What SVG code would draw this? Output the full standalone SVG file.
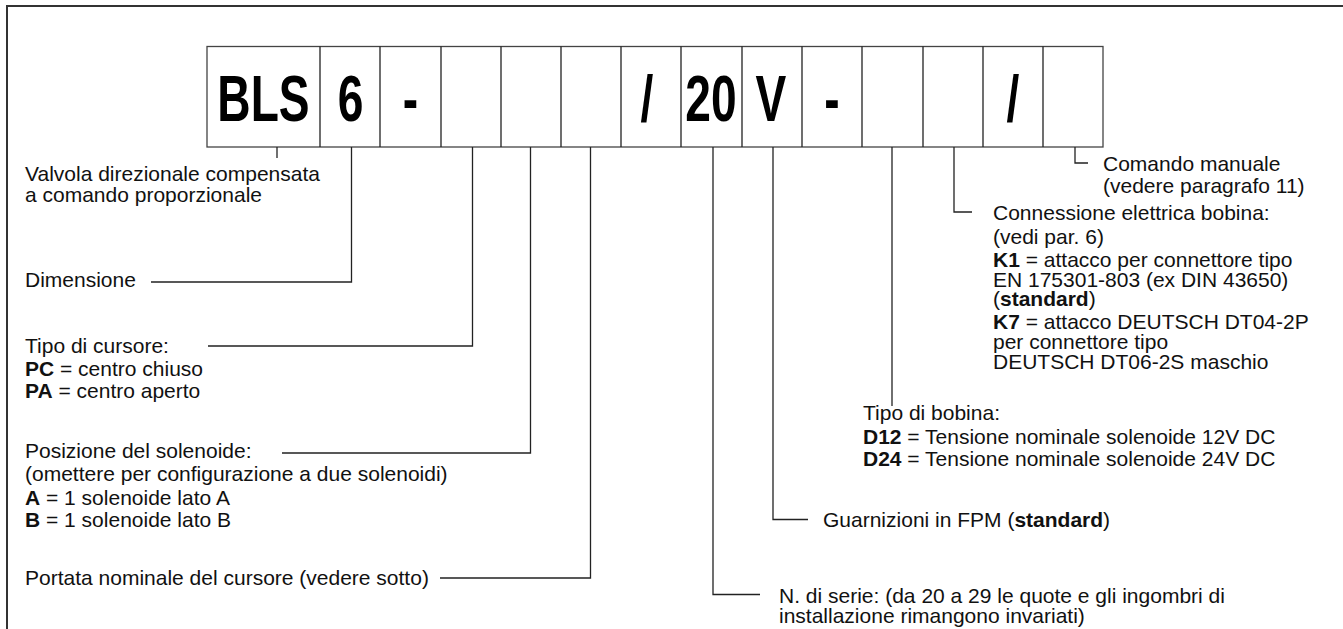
<svg xmlns="http://www.w3.org/2000/svg" width="1343" height="629" viewBox="0 0 1343 629">
<style>
.t{font-family:"Liberation Sans",Arial,sans-serif;font-size:21px;fill:#111}
.b{font-weight:bold}
.big{font-family:"Liberation Sans",Arial,sans-serif;font-size:65px;font-weight:bold;fill:#000;text-anchor:middle}
.box{fill:#fff;stroke:#444;stroke-width:1.3}
.ld{fill:none;stroke:#222;stroke-width:1.3}
.frame{fill:none;stroke:#333;stroke-width:2}
</style>
<rect width="1343" height="629" fill="#fff"/>
<path class="frame" d="M7,629 V6 H1343"/>
<g id="code">
<rect class="box" x="207" y="46.5" width="896" height="100.5"/>
<path class="ld" d="M320,46.5V147M380,46.5V147M441,46.5V147M501,46.5V147M561,46.5V147M621,46.5V147M681,46.5V147M742,46.5V147M802,46.5V147M862,46.5V147M923,46.5V147M983,46.5V147M1043,46.5V147"/>
<g transform="translate(263.5,120.5) scale(0.71,1)"><text class="big" x="0" y="0">BLS</text></g>
<g transform="translate(350.5,120.5) scale(0.71,1)"><text class="big" x="0" y="0">6</text></g>
<g transform="translate(410.5,120.5) scale(0.71,1)"><text class="big" x="0" y="0">-</text></g>
<g transform="translate(647,120.5) scale(0.71,1)"><text class="big" x="0" y="0">/</text></g>
<g transform="translate(711,120.5) scale(0.71,1)"><text class="big" x="0" y="0">20</text></g>
<g transform="translate(771,120.5) scale(0.71,1)"><text class="big" x="0" y="0">V</text></g>
<g transform="translate(832,120.5) scale(0.71,1)"><text class="big" x="0" y="0">-</text></g>
<g transform="translate(1013,120.5) scale(0.71,1)"><text class="big" x="0" y="0">/</text></g>
</g>
<g id="connectors">
<path class="ld" d="M277,147V158"/>
<path class="ld" d="M351.5,147V282H151"/>
<path class="ld" d="M472.5,147V346H208"/>
<path class="ld" d="M530.5,147V453H282"/>
<path class="ld" d="M590.5,147V578H440"/>
<path class="ld" d="M713,147V594.5H760"/>
<path class="ld" d="M773,147V519.5H808"/>
<path class="ld" d="M892,147V406"/>
<path class="ld" d="M954,147V212H972"/>
<path class="ld" d="M1075,147V163H1088"/>
</g>
<g id="n-valvola">
<text class="t" x="25" y="181">Valvola direzionale compensata</text>
<text class="t" x="25" y="202">a comando proporzionale</text>
</g>
<g id="n-dimensione">
<text class="t" x="25" y="287">Dimensione</text>
</g>
<g id="n-cursore">
<text class="t" x="25" y="353">Tipo di cursore:</text>
<text class="t" x="25" y="376"><tspan class="b">PC</tspan> = centro chiuso</text>
<text class="t" x="25" y="398"><tspan class="b">PA</tspan> = centro aperto</text>
</g>
<g id="n-solenoide">
<text class="t" x="25" y="458">Posizione del solenoide:</text>
<text class="t" x="25" y="481">(omettere per configurazione a due solenoidi)</text>
<text class="t" x="25" y="505"><tspan class="b">A</tspan> = 1 solenoide lato A</text>
<text class="t" x="25" y="527"><tspan class="b">B</tspan> = 1 solenoide lato B</text>
</g>
<g id="n-portata">
<text class="t" x="25" y="585">Portata nominale del cursore (vedere sotto)</text>
</g>
<g id="n-comando">
<text class="t" x="1103" y="171">Comando manuale</text>
<text class="t" x="1103" y="193">(vedere paragrafo 11)</text>
</g>
<g id="n-connessione">
<text class="t" x="993" y="220">Connessione elettrica bobina:</text>
<text class="t" x="993" y="244">(vedi par. 6)</text>
<text class="t" x="993" y="267"><tspan class="b">K1</tspan> = attacco per connettore tipo</text>
<text class="t" x="993" y="287">EN 175301-803 (ex DIN 43650)</text>
<text class="t" x="993" y="306">(<tspan class="b">standard</tspan>)</text>
<text class="t" x="993" y="329"><tspan class="b">K7</tspan> = attacco DEUTSCH DT04-2P</text>
<text class="t" x="993" y="349">per connettore tipo</text>
<text class="t" x="993" y="369">DEUTSCH DT06-2S maschio</text>
</g>
<g id="n-bobina">
<text class="t" x="863" y="420">Tipo di bobina:</text>
<text class="t" x="863" y="444"><tspan class="b">D12</tspan> = Tensione nominale solenoide 12V DC</text>
<text class="t" x="863" y="466"><tspan class="b">D24</tspan> = Tensione nominale solenoide 24V DC</text>
</g>
<g id="n-guarnizioni">
<text class="t" x="823" y="527">Guarnizioni in FPM (<tspan class="b">standard</tspan>)</text>
</g>
<g id="n-serie">
<text class="t" x="779" y="603">N. di serie: (da 20 a 29 le quote e gli ingombri di</text>
<text class="t" x="779" y="623">installazione rimangono invariati)</text>
</g>
</svg>
